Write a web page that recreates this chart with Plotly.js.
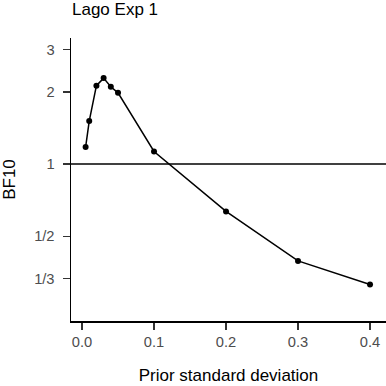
<!DOCTYPE html>
<html>
<head>
<meta charset="utf-8">
<script src="https://cdn.plot.ly/plotly-3.0.1.min.js"></script>
<style>html,body{margin:0;padding:0;background:#fff;}#chart{width:386px;height:386px;}</style>
</head>
<body>
<div id="chart"></div>
<script>
// Data
const priorSD = [0.005, 0.01, 0.02, 0.03, 0.04, 0.05, 0.1, 0.2, 0.3, 0.4];
const bf10 = [1.177, 1.51, 2.12, 2.28, 2.10, 1.98, 1.128, 0.635, 0.395, 0.315];
const yTickVals = [1/3, 1/2, 1, 2, 3];
const yTickText = ['1/3', '1/2', '1', '2', '3'];
const xTickVals = [0, 0.1, 0.2, 0.3, 0.4];
const xTickText = ['0.0', '0.1', '0.2', '0.3', '0.4'];
const referenceBF = 1;

const font = 'Liberation Sans, Arial, Helvetica, sans-serif';
const tickGrey = '#4d4d4d';

const trace = {
  x: priorSD,
  y: bf10,
  type: 'scatter',
  mode: 'lines+markers',
  line: {color: '#000', width: 1.5},
  marker: {color: '#000', size: 6},
  hoverinfo: 'x+y'
};

const layout = {
  width: 386, height: 386,
  margin: {l: 71, r: 0, t: 38, b: 65},
  paper_bgcolor: '#fff', plot_bgcolor: '#fff',
  showlegend: false,
  font: {family: font, color: '#000'},
  title: {
    text: 'Lago Exp 1',
    font: {family: font, size: 17, color: '#000'},
    x: 72/386, xref: 'container', xanchor: 'left',
    y: 1 - 9/386, yref: 'container', yanchor: 'middle',
    pad: {t: 0, b: 0, l: 0, r: 0}
  },
  xaxis: {
    range: [-0.0153, 0.4222],
    tickvals: xTickVals, ticktext: xTickText,
    ticks: 'outside', ticklen: 7, tickwidth: 1.5, tickcolor: '#333',
    tickfont: {family: font, size: 14.7, color: tickGrey},
    ticklabelstandoff: 0,
    showline: true, linecolor: '#000', linewidth: 1.5,
    showgrid: false, zeroline: false,
    title: {text: 'Prior standard deviation', font: {family: font, size: 17, color: '#000'}, standoff: 20}
  },
  yaxis: {
    type: 'log',
    range: [Math.log10(0.222), Math.log10(3.35)],
    tickvals: yTickVals, ticktext: yTickText,
    ticks: 'outside', ticklen: 7, tickwidth: 1.5, tickcolor: '#333',
    tickfont: {family: font, size: 14.7, color: tickGrey},
    ticklabelstandoff: 5,
    showline: true, linecolor: '#000', linewidth: 1.5,
    showgrid: false, zeroline: false,
    title: {text: 'BF10', font: {family: font, size: 17, color: '#000'}, standoff: 16}
  },
  shapes: [{
    type: 'line', xref: 'paper', x0: 0, x1: 1,
    yref: 'y', y0: referenceBF, y1: referenceBF,
    line: {color: '#000', width: 1.5}, layer: 'below'
  }]
};

Plotly.newPlot('chart', [trace], layout, {displayModeBar: false, staticPlot: true});
</script>
</body>
</html>
